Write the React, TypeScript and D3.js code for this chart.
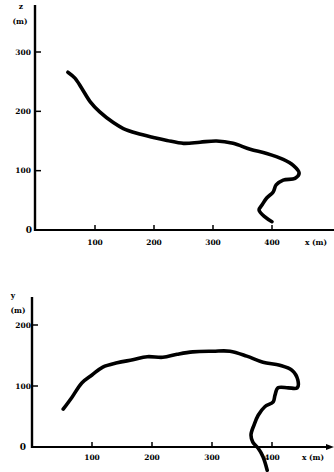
import React from 'react';
import * as d3 from 'd3';

// top panel: x-z trajectory
const topX = [54, 66, 78, 92, 108, 131, 148, 171, 199, 222, 250, 278, 306, 334, 363, 391, 419, 436, 446, 439, 419, 407, 402, 391, 383, 378, 388, 400];
const topZ = [266, 256, 238, 216, 199, 181, 171, 163, 156, 151, 146, 148, 150, 146, 136, 129, 119, 109, 96, 87, 84, 76, 64, 54, 42, 34, 22, 14];

// bottom panel: x-y trajectory
const botX = [52, 67, 83, 100, 118, 142, 168, 192, 218, 242, 268, 302, 330, 358, 385, 413, 433, 443, 442, 427, 410, 405, 402, 388, 377, 370, 365, 368, 377, 385, 392];
const botY = [62, 82, 105, 118, 131, 138, 143, 148, 147, 152, 156, 157, 157, 149, 139, 134, 126, 110, 97, 97, 97, 85, 74, 66, 52, 36, 20, 8, -2, -16, -38];

const xTicks = [100, 200, 300, 400];
const topYTicks = [100, 200, 300];
const botYTicks = [100, 200];

const font = { fontFamily: 'DejaVu Serif', fontWeight: 'bold' as const, fontSize: 7.5 };

const App = () => {
  // top scales
  const xt = d3.scaleLinear().domain([0, 500]).range([36, 331]);
  const yt = d3.scaleLinear().domain([0, 300]).range([230, 52]);
  // bottom scales
  const xb = d3.scaleLinear().domain([0, 500]).range([32, 332]);
  const yb = d3.scaleLinear().domain([0, 200]).range([447, 325]);

  const lineTop = d3.line<number>()
    .x((d, i) => xt(topX[i]))
    .y(d => yt(d))
    .curve(d3.curveCatmullRom.alpha(0.5));
  const lineBot = d3.line<number>()
    .x((d, i) => xb(botX[i]))
    .y(d => yb(d))
    .curve(d3.curveCatmullRom.alpha(0.5));

  return (
    <svg width={334} height={472} style={{ position: 'absolute', left: 0, top: 0, background: '#fff' }}>
      {/* top panel */}
      <g>
        <line x1={35} y1={5} x2={35} y2={231} stroke="#000" strokeWidth={2.4} />
        <line x1={34} y1={230} x2={334} y2={230} stroke="#000" strokeWidth={2} />
        {topYTicks.map(t => (
          <g key={t}>
            <line x1={35} x2={41} y1={yt(t)} y2={yt(t)} stroke="#000" strokeWidth={1.5} />
            <text x={31} y={yt(t) + 2.5} textAnchor="end" style={font}>{t}</text>
          </g>
        ))}
        <text x={29} y={233} textAnchor="middle" style={{ ...font, fontSize: 9 }}>0</text>
        {xTicks.map(t => (
          <g key={t}>
            <line x1={xt(t)} x2={xt(t)} y1={230} y2={225} stroke="#000" strokeWidth={1.5} />
            <text x={xt(t)} y={245} textAnchor="middle" style={font}>{t}</text>
          </g>
        ))}
        <text x={316} y={245} textAnchor="middle" style={font}>x (m)</text>
        <text x={21} y={9} textAnchor="middle" style={font}>z</text>
        <text x={20} y={24} textAnchor="middle" style={font}>(m)</text>
        <path d={lineTop(topZ) ?? ''} fill="none" stroke="#000" strokeWidth={3.6} strokeLinecap="round" strokeLinejoin="round" />
      </g>

      {/* bottom panel */}
      <g>
        <line x1={32} y1={297} x2={32} y2={448} stroke="#000" strokeWidth={2.4} />
        <line x1={31} y1={447} x2={328} y2={447} stroke="#000" strokeWidth={2} />
        <path d="M334,447 L326,444 L326,450 Z" fill="#000" />
        {botYTicks.map(t => (
          <g key={t}>
            <line x1={32} x2={38} y1={yb(t)} y2={yb(t)} stroke="#000" strokeWidth={1.5} />
            <text x={31} y={yb(t) + 2.5} textAnchor="end" style={font}>{t}</text>
          </g>
        ))}
        <text x={23} y={450} textAnchor="middle" style={{ ...font, fontSize: 9 }}>0</text>
        {xTicks.map(t => (
          <g key={t}>
            <line x1={xb(t)} x2={xb(t)} y1={447} y2={442} stroke="#000" strokeWidth={1.5} />
            <text x={xb(t)} y={460} textAnchor="middle" style={font}>{t}</text>
          </g>
        ))}
        <text x={313} y={460} textAnchor="middle" style={font}>x (m)</text>
        <text x={13} y={298} textAnchor="middle" style={font}>y</text>
        <text x={18} y={313} textAnchor="middle" style={font}>(m)</text>
        <path d={lineBot(botY) ?? ''} fill="none" stroke="#000" strokeWidth={3.6} strokeLinecap="round" strokeLinejoin="round" />
      </g>
    </svg>
  );
};

export default App;
